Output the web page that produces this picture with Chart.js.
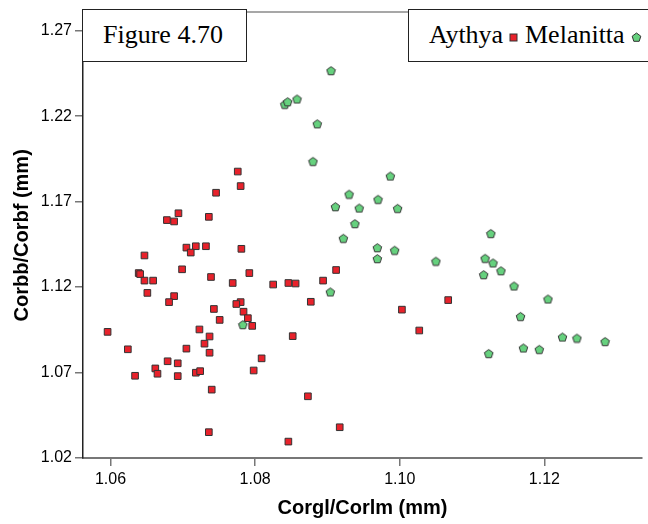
<!DOCTYPE html>
<html>
<head>
<meta charset="utf-8">
<script src="https://cdn.jsdelivr.net/npm/chart.js@4.4.1/dist/chart.umd.min.js"></script>
<style>
    body { margin: 0; background: #fff; overflow: hidden; }
    #wrap { position: relative; width: 648px; height: 524px; }
    .box { position: absolute; top: 9px; height: 51px; border: 1.5px solid #222; background: #fff;
           font-family: 'Liberation Serif', 'Times New Roman', serif; font-size: 26px; color: #000; }
    .box span { position: absolute; top: 11px; line-height: 28px; white-space: nowrap; }
    .box svg { position: absolute; }
</style>
</head>
<body>
<div id="wrap">
    <canvas id="chart" width="648" height="524"></canvas>
    <div class="box" style="left:82px; width:163px;"><span style="left:20px;">Figure 4.70</span></div>
    <div class="box" style="left:408px; width:260px;">
        <span style="left:20px;">Aythya</span>
        <svg style="left:100px; top:23px;" width="9" height="9"><rect x="1" y="1" width="7" height="7" fill="#e8222b" stroke="#333" stroke-width="1"/></svg>
        <span style="left:116px;">Melanitta</span>
        <svg style="left:222px; top:22px;" width="11" height="11"><polygon points="5.5,1 9.8,4.2 8.2,9.3 2.8,9.3 1.2,4.2" fill="#66d17e" stroke="#333" stroke-width="1"/></svg>
    </div>
</div>
<script>
// tick labels
const xTicks = [1.06, 1.08, 1.10, 1.12];
const yTicks = [1.02, 1.07, 1.12, 1.17, 1.22, 1.27];

// Aythya (red squares)
const aythyaX = [1.0776, 1.0780, 1.0746, 1.0694, 1.0678, 1.0688, 1.0736, 1.0647, 1.0705, 1.0718,
    1.0711, 1.0732, 1.0781, 1.0639, 1.0641, 1.0699, 1.0739, 1.0792, 1.0647, 1.0659,
    1.0769, 1.0825, 1.0651, 1.0688, 1.0681, 1.0780, 1.0774, 1.0743, 1.0784, 1.0751,
    1.0790, 1.0796, 1.0596, 1.0723, 1.0737, 1.0730, 1.0624, 1.0705, 1.0737, 1.0679,
    1.0693, 1.0809, 1.0662, 1.0665, 1.0634, 1.0693, 1.0718, 1.0724, 1.0798, 1.0740,
    1.0736, 1.0912, 1.0846, 1.0856, 1.0894, 1.0877, 1.1067, 1.1003, 1.0852, 1.1027,
    1.0873, 1.0917, 1.0846];
const aythyaY = [1.1876, 1.1791, 1.1752, 1.1632, 1.1592, 1.1584, 1.1611, 1.1385, 1.1431, 1.1439,
    1.1402, 1.1439, 1.1424, 1.1282, 1.1276, 1.1304, 1.1259, 1.1282, 1.1238, 1.1238,
    1.1224, 1.1215, 1.1166, 1.1147, 1.1112, 1.1112, 1.1101, 1.1072, 1.1056, 1.1008,
    1.1018, 1.0973, 1.0938, 1.0952, 1.0911, 1.0869, 1.0836, 1.0840, 1.0816, 1.0766,
    1.0754, 1.0783, 1.0724, 1.0693, 1.0681, 1.0679, 1.0699, 1.0708, 1.0712, 1.0600,
    1.0351, 1.1300, 1.1224, 1.1221, 1.1238, 1.1114, 1.1124, 1.1068, 1.0913, 1.0946,
    1.0561, 1.0380, 1.0296];

// Melanitta (green pentagons)
const melanittaX = [1.0905, 1.0841, 1.0845, 1.0858, 1.0886, 1.0880, 1.0987, 1.0930, 1.0970, 1.0911,
    1.0944, 1.0997, 1.0938, 1.0922, 1.0969, 1.0993, 1.0969, 1.1050, 1.0904, 1.0783,
    1.1126, 1.1118, 1.1129, 1.1140, 1.1116, 1.1158, 1.1205, 1.1167, 1.1225, 1.1245,
    1.1284, 1.1171, 1.1193, 1.1123];
const melanittaY = [1.2467, 1.2270, 1.2285, 1.2301, 1.2156, 1.1936, 1.1850, 1.1744, 1.1714, 1.1671,
    1.1663, 1.1661, 1.1572, 1.1486, 1.1431, 1.1416, 1.1367, 1.1352, 1.1172, 1.0981,
    1.1514, 1.1369, 1.1342, 1.1296, 1.1273, 1.1207, 1.1131, 1.1029, 1.0908, 1.0902,
    1.0882, 1.0844, 1.0836, 1.0812];

function pentagon(size, fill, stroke) {
    const c = document.createElement('canvas');
    c.width = size;
    c.height = size;
    const g = c.getContext('2d');
    const r = size / 2 - 1;
    g.beginPath();
    for (let i = 0; i < 5; i++) {
        const a = -Math.PI / 2 + i * 2 * Math.PI / 5;
        const px = size / 2 + r * Math.cos(a);
        const py = size / 2 + 0.6 + r * Math.sin(a);
        if (i === 0) g.moveTo(px, py); else g.lineTo(px, py);
    }
    g.closePath();
    g.fillStyle = fill;
    g.fill();
    g.lineWidth = 1;
    g.strokeStyle = stroke;
    g.stroke();
    return c;
}

// gray frame line on top of the plot area
const frameTop = {
    id: 'frameTop',
    afterDraw(chart) {
        const {ctx, chartArea} = chart;
        ctx.save();
        ctx.strokeStyle = '#8a8a8a';
        ctx.lineWidth = 1.5;
        ctx.beginPath();
        ctx.moveTo(chartArea.left, chartArea.top - 0.5);
        ctx.lineTo(chartArea.right, chartArea.top - 0.5);
        ctx.stroke();
        ctx.restore();
    }
};

const tickFont = { family: "'Liberation Sans', Arial, sans-serif", size: 16 };
const titleFont = { family: "'Liberation Sans', Arial, sans-serif", size: 20, weight: 'bold' };

new Chart(document.getElementById('chart'), {
    type: 'scatter',
    data: {
        datasets: [{
            label: 'Aythya',
            data: aythyaX.map((x, i) => ({ x: x, y: aythyaY[i] })),
            pointStyle: 'rect',
            pointRadius: 4.7,
            backgroundColor: '#e8222b',
            borderColor: '#333',
            borderWidth: 1
        }, {
            label: 'Melanitta',
            data: melanittaX.map((x, i) => ({ x: x, y: melanittaY[i] })),
            pointStyle: pentagon(11, '#66d17e', '#333'),
            pointRadius: 5
        }]
    },
    options: {
        responsive: false,
        animation: false,
        layout: { padding: { top: 9, left: 0, right: 0, bottom: 0 } },
        plugins: {
            legend: { display: false },
            tooltip: { enabled: false }
        },
        scales: {
            x: {
                type: 'linear',
                min: 1.0562,
                max: 1.1335,
                afterBuildTicks: s => { s.ticks = xTicks.map(v => ({ value: v })); },
                afterFit: s => { s.height = 66; },
                ticks: {
                    callback: v => v.toFixed(2),
                    font: tickFont,
                    color: '#000',
                    padding: 4,
                    maxRotation: 0
                },
                grid: { drawOnChartArea: false, tickLength: 8, color: '#777', lineWidth: 1.5 },
                border: { color: '#777', width: 2 },
                title: {
                    display: true,
                    text: 'Corgl/Corlm (mm)',
                    font: titleFont,
                    color: '#000',
                    padding: { top: 0, bottom: 4 }
                }
            },
            y: {
                min: 1.02,
                max: 1.2806,
                afterBuildTicks: s => { s.ticks = yTicks.map(v => ({ value: v })); },
                afterFit: s => { s.width = 83; },
                ticks: {
                    callback: v => v.toFixed(2),
                    font: tickFont,
                    color: '#000',
                    padding: 3
                },
                grid: { drawOnChartArea: false, tickLength: 8, color: '#777', lineWidth: 1.5 },
                border: { color: '#222', width: 1.5 },
                title: {
                    display: true,
                    text: 'Corbb/Corbf (mm)',
                    font: titleFont,
                    color: '#000',
                    padding: { top: 10, bottom: 0 }
                }
            }
        }
    },
    plugins: [frameTop]
});
</script>
</body>
</html>
